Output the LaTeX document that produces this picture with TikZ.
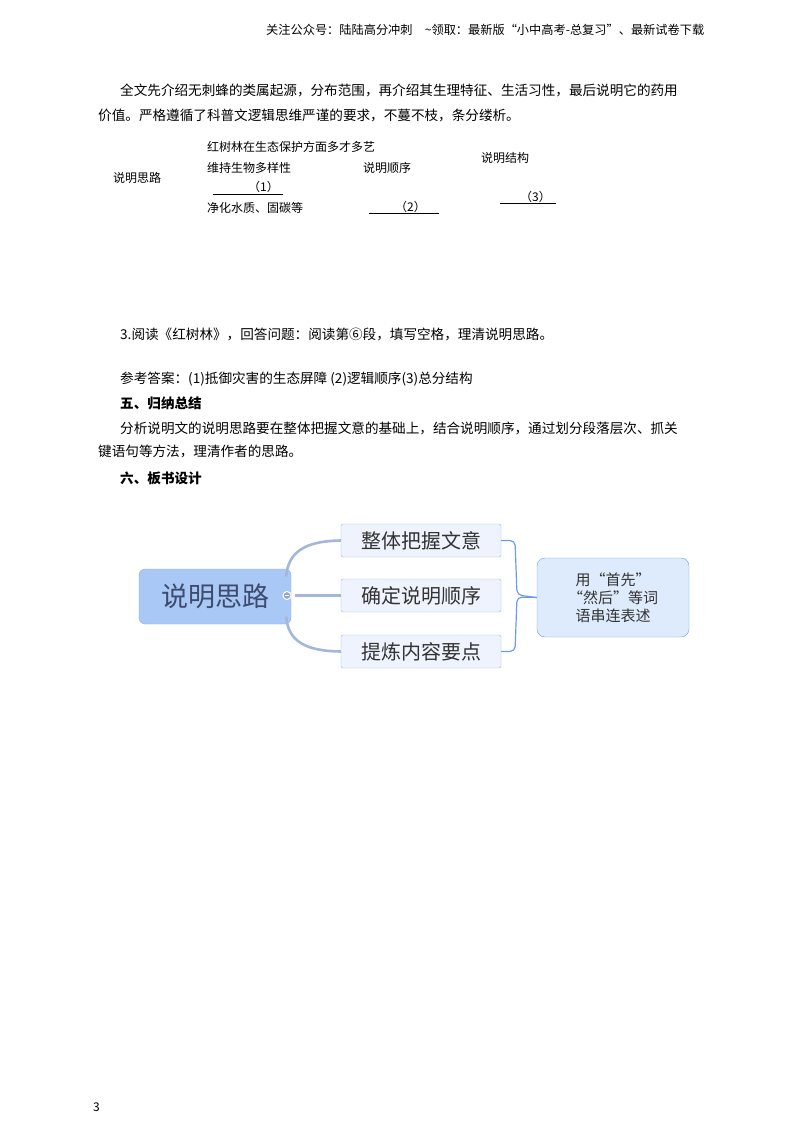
\documentclass[tikz,border=0pt]{standalone}
\usepackage{fontspec}
\setmainfont{Noto Sans CJK SC}
\begin{document}
\begin{tikzpicture}[x=1pt,y=-1pt,
  txt/.style={anchor=west,inner sep=0pt,font=\fontsize{13.6}{15}\selectfont},
  sm/.style={anchor=west,inner sep=0pt,font=\fontsize{12}{14}\selectfont},
  br/.style={draw=bord,fill=brfill,rounded corners=2pt,minimum width=160pt,minimum height=33pt,inner sep=0pt,font=\fontsize{20}{22}\selectfont,text=black!80},
  conn/.style={draw=lnc,line width=2.6pt},
  brk/.style={draw=rbord,line width=1.2pt,rounded corners=5pt}]
\definecolor{bord}{HTML}{A0B4DC}
\definecolor{brfill}{HTML}{EEF3FD}
\definecolor{lnc}{HTML}{A3B6DC}
\definecolor{rbord}{HTML}{6E9CE0}
\useasboundingbox (0,0) rectangle (800,1132);
\node[sm,font=\fontsize{12.2}{13}\selectfont] (hd) at (266,30) {关注公众号：陆陆高分冲刺\quad \textasciitilde 领取：最新版“小中高考-总复习”、最新试卷下载};
\node[txt] (p1) at (120,90) {全文先介绍无刺蜂的类属起源，分布范围，再介绍其生理特征、生活习性，最后说明它的药用};
\node[txt] (p2) at (98,115) {价值。严格遵循了科普文逻辑思维严谨的要求，不蔓不枝，条分缕析。};
\node[sm] (a) at (113,178) {说明思路};
\node[sm] (b1) at (207,147) {红树林在生态保护方面多才多艺};
\node[sm] (b2) at (207,168) {维持生物多样性};
\node[sm] (b3) at (248,187) {（1）};
\draw (213,194) -- (283,194);
\node[sm] (b4) at (207,208) {净化水质、固碳等};
\node[sm] (c1) at (363,168) {说明顺序};
\node[sm] (c2) at (395,207) {（2）};
\draw (369,213) -- (439,213);
\node[sm] (d1) at (481,158) {说明结构};
\node[sm] (d2) at (520,197) {（3）};
\draw (500,203) -- (556,203);
\node[txt] (q) at (120,334) {3.阅读《红树林》，回答问题：阅读第⑥段，填写空格，理清说明思路。};
\node[txt] (ans) at (120,379) {参考答案：(1)抵御灾害的生态屏障 (2)逻辑顺序(3)总分结构};
\node[txt,font=\fontsize{13.6}{15}\selectfont\bfseries] (s5) at (120,403) {五、归纳总结};
\node[txt] (p3) at (120,428) {分析说明文的说明思路要在整体把握文意的基础上，结合说明顺序，通过划分段落层次、抓关};
\node[txt] (p4) at (98,451) {键语句等方法，理清作者的思路。};
\node[txt,font=\fontsize{13.6}{15}\selectfont\bfseries] (s6) at (120,478) {六、板书设计};
% mind map
\node[draw=rbord!80,fill={rgb,255:red,170;green,200;blue,245},rounded corners=6pt,minimum width=152pt,minimum height=55pt,inner sep=0pt,font=\fontsize{27}{30}\selectfont,text={rgb,255:red,60;green,75;blue,110}] (root) at (215,596.5) {说明思路};
\node[br] (n1) at (421,540.5) {整体把握文意};
\node[br] (n2) at (421,595.5) {确定说明顺序};
\node[br] (n3) at (421,651.5) {提炼内容要点};
\node[draw=rbord,fill={rgb,255:red,222;green,235;blue,252},rounded corners=8pt,minimum width=152pt,minimum height=79pt,inner sep=0pt,align=center,font=\fontsize{15}{18}\selectfont,text=black!80] (rt) at (613,597.5) {用“首先”\\“然后”等词\\语串连表述};
\draw[conn] (root.east) ++(-5,-20) .. controls (288,552) and (305,541) .. (n1.west);
\draw[conn] (root.east) ++(-5,20) .. controls (288,641) and (305,651) .. (n3.west);
\draw[conn] (root.east) ++(4,-1) -- (n2.west);
\node[circle,draw=white,fill=lnc!70!gray,line width=1pt,minimum size=8pt,inner sep=0pt] (mn) at (287,595.5) {};
\draw[white,line width=1pt] (mn.west) ++(2,0) -- ++(4,0);
\draw[brk] (n1.east) -- (515,540.5) -- (517,595) -- (rt.west);
\draw[brk] (n3.east) -- (515,651.5) -- (517,597) -- (rt.west);
\node[sm] (pg) at (93,1107) {3};
\end{tikzpicture}
\end{document}
